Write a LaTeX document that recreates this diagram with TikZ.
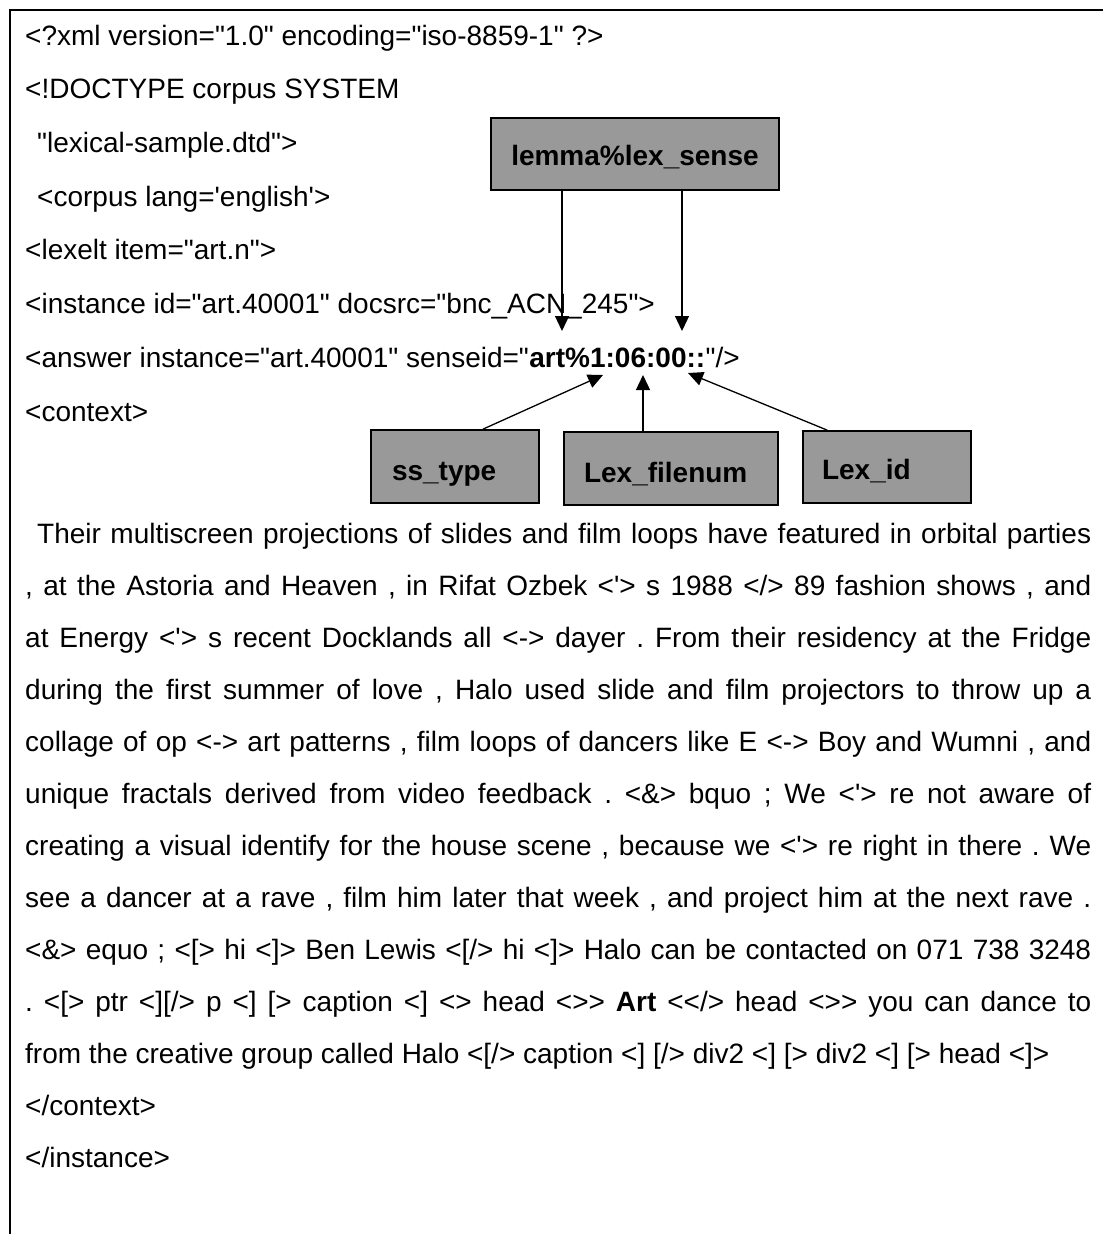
\documentclass[tikz,border=0pt]{standalone}
\usepackage{fontspec}
\newfontfamily\xmlfont{Liberation Sans}
\usetikzlibrary{arrows.meta}
\definecolor{tagfill}{RGB}{153,153,153}
\newcommand{\jline}[2]{\makebox[#1][s]{#2}}
\begin{document}
\frenchspacing
\begin{tikzpicture}[x=1pt,y=-1pt,
  code/.style={anchor=base west,inner sep=0pt,font=\xmlfont\fontsize{28}{34}\selectfont},
  tag/.style={draw=black,line width=1.8pt,fill=tagfill,inner sep=0pt,
    font=\xmlfont\bfseries\fontsize{28}{34}\selectfont},
  link/.style={line width=1.3pt,-{Triangle[length=15pt,width=14pt]}}]

\useasboundingbox (0,0) rectangle (1103,1234);
% open frame: top and left rules only
\draw[line width=2pt] (1103,10) -- (10,10) -- (10,1234);

% XML header
\node[code] (h1) at (25,45)    {<?xml version="1.0" encoding="iso-8859-1" ?>};
\node[code] (h2) at (25,98.7)  {<!DOCTYPE corpus SYSTEM};
\node[code] (h3) at (37,152.4) {"lexical-sample.dtd">};
\node[code] (h4) at (37,206)   {<corpus lang='english'>};
\node[code] (h5) at (25,259.8) {<lexelt item="art.n">};
\node[code] (h6) at (25,313.5) {<instance id="art.40001" docsrc="bnc\_ACN\_245">};
\node[code] (h7) at (25,367.2) {<answer instance="art.40001" senseid="};
\node[code] (sense) at (h7.base east) {\bfseries art\%1:06:00::};
\node[code] (h7end) at (sense.base east) {"/>};
\node[code] (h8) at (25,421)   {<context>};

% context paragraph (justified lines)
\node[code] (p1)  at (37,543)  {\jline{1054pt}{Their multiscreen projections of slides and film loops have featured in orbital parties}};
\node[code] (p2)  at (25,595)  {\jline{1066pt}{, at the Astoria and Heaven , in Rifat Ozbek <'> s 1988 </> 89 fashion shows , and}};
\node[code] (p3)  at (25,647)  {\jline{1066pt}{at Energy <'> s recent Docklands all <-> dayer . From their residency at the Fridge}};
\node[code] (p4)  at (25,699)  {\jline{1066pt}{during the first summer of love , Halo used slide and film projectors to throw up a}};
\node[code] (p5)  at (25,751)  {\jline{1066pt}{collage of op <-> art patterns , film loops of dancers like E <-> Boy and Wumni , and}};
\node[code] (p6)  at (25,803)  {\jline{1066pt}{unique fractals derived from video feedback . <\&> bquo ; We <'> re not aware of}};
\node[code] (p7)  at (25,855)  {\jline{1066pt}{creating a visual identify for the house scene , because we <'> re right in there . We}};
\node[code] (p8)  at (25,907)  {\jline{1066pt}{see a dancer at a rave , film him later that week , and project him at the next rave .}};
\node[code] (p9)  at (25,959)  {\jline{1066pt}{<\&> equo ; <[> hi <]> Ben Lewis <[/> hi <]> Halo can be contacted on 071 738 3248}};
\node[code] (p10) at (25,1011) {\jline{1066pt}{. <[> ptr <][/> p <] [> caption <] <> head <>> \textbf{Art} <</> head <>> you can dance to}};
\node[code] (p11) at (25,1063) {from the creative group called Halo <[/> caption <] [/> div2 <] [> div2 <] [> head <]>};
\node[code] (f1)  at (25,1115) {</context>};
\node[code] (f2)  at (25,1167) {</instance>};

% sense-key part boxes
\node[tag,minimum width=288pt,minimum height=72pt,text height=22pt,text depth=0pt]
  (lemma) at (635,154) {lemma\%lex\_sense};
\node[tag,minimum height=73pt,inner xsep=21pt,text width=126pt,align=left,text height=27pt,text depth=0pt]
  (sst) at (455,466.5) {ss\_type};
\node[tag,minimum height=73pt,inner xsep=20pt,text width=174pt,align=left,text height=27pt,text depth=0pt]
  (fnum) at (671,468.5) {Lex\_filenum};
\node[tag,minimum height=72pt,inner xsep=19pt,text width=130pt,align=left,text height=24pt,text depth=0pt]
  (lid) at (887,467) {Lex\_id};

% arrow targets on the sense key
\coordinate (artTip) at (562,331);
\coordinate (lexTip) at (682,331);
\coordinate (ssTip) at (603,375);
\coordinate (fileTip) at (643,375);
\coordinate (idTip) at (688,373);

\draw[link] (lemma.south -| artTip) -- (artTip);
\draw[link] (lemma.south -| lexTip) -- (lexTip);
\draw[link] ([xshift=113pt]sst.north west) -- (ssTip);
\draw[link] (fnum.north -| fileTip) -- (fileTip);
\draw[link] ([xshift=25pt]lid.north west) -- (idTip);
\end{tikzpicture}
\end{document}
